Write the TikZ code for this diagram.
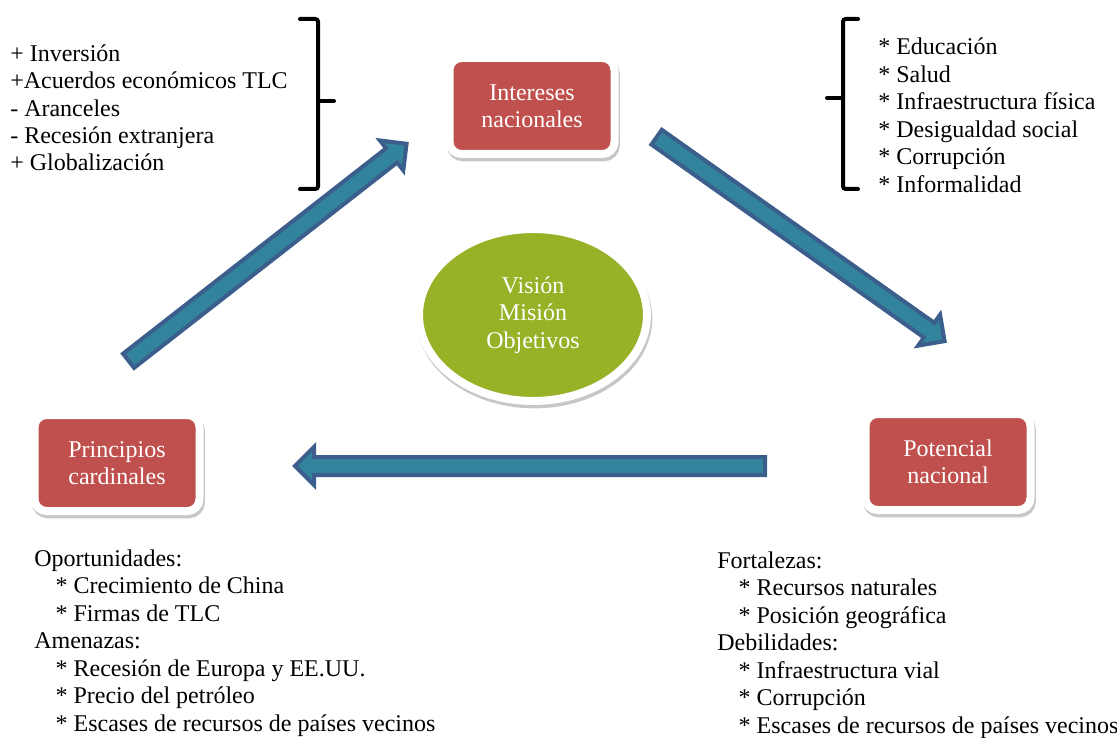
\documentclass[tikz,border=0pt]{standalone}
\usepackage{fontspec}
\setmainfont{Liberation Serif}
\usetikzlibrary{shapes.geometric, shapes.arrows, shadows, calc}
\definecolor{boxred}{RGB}{192,80,77}
\definecolor{ovalgreen}{RGB}{152,178,40}
\definecolor{arrowedge}{RGB}{59,94,140}
\definecolor{arrowfill}{RGB}{49,132,155}

\begin{document}
\begin{tikzpicture}[
        x=0.75pt, y=-0.75pt,
        every node/.style={font=\fontsize{18}{20.6}\selectfont},
        softshadow/.style={drop shadow={opacity=0.22, draw=black, fill=black, line width=6pt, shadow xshift=1pt, shadow yshift=-2.5pt}},
        box/.style={draw=white, line width=6pt, fill=boxred, rounded corners=9pt, text=white, align=center, minimum width=123.75pt, minimum height=72pt, inner sep=0pt, softshadow},
        oval/.style={ellipse, draw=white, line width=6pt, fill=ovalgreen, text=white, align=center, minimum width=171pt, minimum height=129pt, inner sep=0pt, softshadow},
        list/.style={align=left, anchor=base west, inner sep=0pt},
        brace/.style={line width=3pt, line cap=round, rounded corners=2pt},
        blockarrow/.style={to path={let \p1=($(\tikztotarget)-(\tikztostart)$), \n1={atan2(\y1,\x1)}, \n2={veclen(\x1,\y1)} in
            (\tikztostart) node[single arrow, draw=arrowedge, fill=arrowfill, line width=3pt, inner sep=5.25pt, single arrow head extend=7.5pt, minimum height=\n2, rotate=\n1, anchor=tail] {}}}
    ]
        \useasboundingbox (0,0) rectangle (1117,738);

        \node[box] (inter) at (532,106) {Intereses\\nacionales};
        \node[box] (poten) at (948,462) {Potencial\\nacional};
        \node[box] (princ) at (117,463) {Principios\\cardinales};
        \node[oval] (meta) at (533,315) {Visión\\Misión\\Objetivos};

        % arrow ends
        \coordinate (up1) at (127,362);
        \coordinate (up2) at (405,145);
        \coordinate (dn1) at (655,136);
        \coordinate (dn2) at (943,340);
        \coordinate (lf1) at (767,466);
        \coordinate (lf2) at (297,466);
        \path (up1) to[blockarrow] (up2);
        \path (dn1) to[blockarrow] (dn2);
        \path (lf1) to[blockarrow] (lf2);

        % braces
        \draw[brace] (300,19) -- (318,19) -- (318,189) -- (300,189);
        \draw[brace] (318,101) -- (334,101);
        \draw[brace] (858,19) -- (843,19) -- (843,189) -- (858,189);
        \draw[brace] (843,98) -- (827,98);

        % lists (anchored at the last baseline)
        \node[list] (externo) at (10,171) {+ Inversión\\+Acuerdos económicos TLC\\- Aranceles\\- Recesión extranjera\\+ Globalización};
        \node[list] (interno) at (878,192) {* Educación\\* Salud\\* Infraestructura física\\* Desigualdad social\\* Corrupción\\* Informalidad};
        \node[list] (entorno) at (34,731) {Oportunidades:\\\hspace*{16pt}* Crecimiento de China\\\hspace*{16pt}* Firmas de TLC\\Amenazas:\\\hspace*{16pt}* Recesión de Europa y EE.UU.\\\hspace*{16pt}* Precio del petróleo\\\hspace*{16pt}* Escases de recursos de países vecinos};
        \node[list] (capacidad) at (717,733) {Fortalezas:\\\hspace*{16pt}* Recursos naturales\\\hspace*{16pt}* Posición geográfica\\Debilidades:\\\hspace*{16pt}* Infraestructura vial\\\hspace*{16pt}* Corrupción\\\hspace*{16pt}* Escases de recursos de países vecinos};
    \end{tikzpicture}
\end{document}
